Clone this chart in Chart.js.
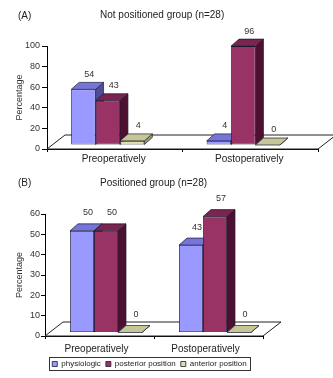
<!DOCTYPE html>
<html>
<head>
<meta charset="utf-8">
<script src="https://cdn.jsdelivr.net/npm/chart.js@4.4.1/dist/chart.umd.min.js"></script>
<style>
  html, body { margin: 0; padding: 0; background: #fff; }
  body { width: 333px; height: 378px; position: relative; overflow: hidden;
         font-family: "Liberation Sans", Arial, sans-serif; color: #222; }
  canvas { position: absolute; left: 0; }
  #chartA { top: 0; }
  #chartB { top: 174px; }
  .lbl { position: absolute; font-size: 10px; line-height: 12px; white-space: nowrap; }
</style>
</head>
<body>
<canvas id="chartA" width="333" height="178"></canvas>
<canvas id="chartB" width="333" height="204"></canvas>
<div class="lbl" style="left:18px;top:10px">(A)</div>
<div class="lbl" style="left:100px;top:9px">Not positioned group (n=28)</div>
<div class="lbl" style="left:18px;top:177px">(B)</div>
<div class="lbl" style="left:100px;top:177px">Positioned group (n=28)</div>
<script>
const categories = ['Preoperatively', 'Postoperatively'];
const seriesNames = ['physiologic', 'posterior position', 'anterior position'];

// (A) not positioned group
const notPosPhysiologic = [54, 4];
const notPosPosterior = [43, 96];
const notPosAnterior = [4, 0];
const ticksA = [0, 20, 40, 60, 80, 100];

// (B) positioned group
const posPhysiologic = [50, 43];
const posPosterior = [50, 57];
const posAnterior = [0, 0];
const ticksB = [0, 10, 20, 30, 40, 50, 60];

const FONT = '"Liberation Sans", Arial, sans-serif';
const frontColors = ['#9999ff', '#993366', '#dfdfb0'];
const topColors = ['#7676d8', '#7a2450', '#c6c697'];
const sideColors = ['#4d4d99', '#4d1030', '#9a9a6a'];
const edge = '#1a1a33';

function poly(ctx, pts, fill) {
  ctx.beginPath();
  ctx.moveTo(pts[0][0], pts[0][1]);
  for (let i = 1; i < pts.length; i++) ctx.lineTo(pts[i][0], pts[i][1]);
  ctx.closePath();
  ctx.fillStyle = fill;
  ctx.fill();
  ctx.stroke();
}

// fake 3D: floor, bar tops and sides, value labels
const bar3d = {
  id: 'bar3d',
  beforeDatasetsDraw(chart, args, o) {
    const { ctx, chartArea: a } = chart;
    ctx.save();
    ctx.lineWidth = 1;
    ctx.strokeStyle = '#222';
    poly(ctx, [[a.left, a.bottom], [a.left + o.floorX, a.bottom - o.floorY],
      [a.right + o.floorX, a.bottom - o.floorY], [a.right, a.bottom]], '#fff');
    ctx.restore();

    ctx.save();
    ctx.translate(o.shiftX, o.shiftY);
    ctx.lineWidth = 0.7;
    ctx.strokeStyle = edge;
    const bars = [];
    chart.data.datasets.forEach((ds, i) => {
      chart.getDatasetMeta(i).data.forEach(b => {
        const p = b.getProps(['x', 'y', 'base', 'width'], true);
        bars.push({ i, l: p.x - p.width / 2, r: p.x + p.width / 2, y: p.y, base: p.base });
      });
    });
    bars.forEach(b => poly(ctx, [[b.r, b.y], [b.r + o.dx, b.y - o.dy],
      [b.r + o.dx, b.base - o.dy], [b.r, b.base]], sideColors[b.i]));
    bars.forEach(b => poly(ctx, [[b.l, b.y], [b.l + o.dx, b.y - o.dy],
      [b.r + o.dx, b.y - o.dy], [b.r, b.y]], topColors[b.i]));
    // bars' front faces are drawn by Chart.js inside this translation
  },
  afterDatasetsDraw(chart, args, o) {
    const { ctx } = chart;
    ctx.restore();
    ctx.save();
    ctx.font = '9px ' + FONT;
    ctx.fillStyle = '#333';
    ctx.textAlign = 'center';
    ctx.textBaseline = 'middle';
    chart.data.datasets.forEach((ds, i) => {
      chart.getDatasetMeta(i).data.forEach((b, j) => {
        const p = b.getProps(['x', 'y'], true);
        ctx.fillText(String(ds.data[j]), p.x + o.shiftX + o.dx * 0.75,
          p.y + o.shiftY - o.dy - o.labelGap);
      });
    });
    ctx.restore();
  }
};

// move legend and draw its frame
const legendFrame = {
  id: 'legendFrame',
  afterUpdate(chart, args, o) {
    const lg = chart.legend;
    if (!lg || !lg.options.display || !lg.legendHitBoxes.length) return;
    const hb = lg.legendHitBoxes;
    const last = hb[hb.length - 1];
    const s = o.center - (hb[0].left + last.left + last.width) / 2;
    lg.left += s; lg.right += s;
    hb.forEach(h => { h.left += s; });
  },
  afterDraw(chart) {
    const lg = chart.legend;
    if (!lg || !lg.options.display || !lg.legendHitBoxes.length) return;
    const hb = lg.legendHitBoxes;
    const last = hb[hb.length - 1];
    const { ctx } = chart;
    ctx.save();
    ctx.strokeStyle = '#333';
    ctx.lineWidth = 1;
    const x0 = Math.round(hb[0].left - 3) + 0.5;
    const x1 = Math.round(last.left + last.width + 3) + 0.5;
    const y0 = Math.round(hb[0].top - 3) + 0.5;
    const y1 = Math.round(hb[0].top + hb[0].height + 2) + 0.5;
    ctx.strokeRect(x0, y0, x1 - x0, y1 - y0);
    ctx.restore();
  }
};

function makeChart(id, values, ticks, cfg) {
  const datasets = values.map((v, i) => ({
    label: seriesNames[i],
    data: v,
    backgroundColor: frontColors[i],
    borderColor: edge,
    borderWidth: 0.8,
    borderSkipped: false,
    barPercentage: 1,
    categoryPercentage: cfg.catPct,
    clip: false
  }));
  return new Chart(document.getElementById(id), {
    type: 'bar',
    data: { labels: categories, datasets },
    options: {
      responsive: false,
      animation: false,
      events: [],
      layout: { padding: { left: 0, right: cfg.padRight, top: cfg.padTop, bottom: 0 } },
      plugins: {
        legend: {
          display: cfg.legend,
          position: 'bottom',
          labels: { font: { family: FONT, size: 8 }, color: '#222', boxWidth: 5, boxHeight: 5, padding: 5 }
        },
        tooltip: { enabled: false },
        bar3d: { dx: 8, dy: 7, floorX: 18, floorY: 14, shiftX: cfg.shiftX, shiftY: cfg.shiftY, labelGap: cfg.labelGap },
        legendFrame: { center: 149.5 }
      },
      scales: {
        x: {
          afterFit: s => { s.height = cfg.xHeight; },
          grid: { drawOnChartArea: false, tickLength: 3, color: '#000' },
          border: { color: '#000', width: 1 },
          ticks: { font: { family: FONT, size: 10 }, color: '#222', padding: cfg.xPad, labelOffset: cfg.labelOffset, maxRotation: 0 }
        },
        y: {
          min: ticks[0],
          max: ticks[ticks.length - 1],
          afterFit: s => { s.width = cfg.axisX; },
          grid: { drawOnChartArea: false, tickLength: cfg.yTick, color: '#000' },
          border: { color: '#000', width: 1 },
          ticks: { stepSize: ticks[1] - ticks[0], font: { family: FONT, size: 9 }, color: '#333', padding: cfg.yPad },
          title: { display: true, text: 'Percentage', font: { family: FONT, size: 9 }, color: '#333', padding: { top: 14.6, bottom: 0 } }
        }
      }
    },
    plugins: [bar3d, legendFrame]
  });
}

makeChart('chartA', [notPosPhysiologic, notPosPosterior, notPosAnterior], ticksA, {
  catPct: 0.54, padRight: 15, padTop: 46, axisX: 47, xHeight: 29, xPad: 1, labelOffset: -1,
  shiftX: -7, shiftY: -4, labelGap: 8, legend: false, yTick: 5, yPad: 2
});

makeChart('chartB', [posPhysiologic, posPosterior, posAnterior], ticksB, {
  catPct: 0.66, padRight: 70, padTop: 40, axisX: 45, xHeight: 19, xPad: 4, labelOffset: -3,
  shiftX: 6.5, shiftY: -3.5, labelGap: 11, legend: true, yTick: 4, yPad: 1
});
</script>
</body>
</html>
